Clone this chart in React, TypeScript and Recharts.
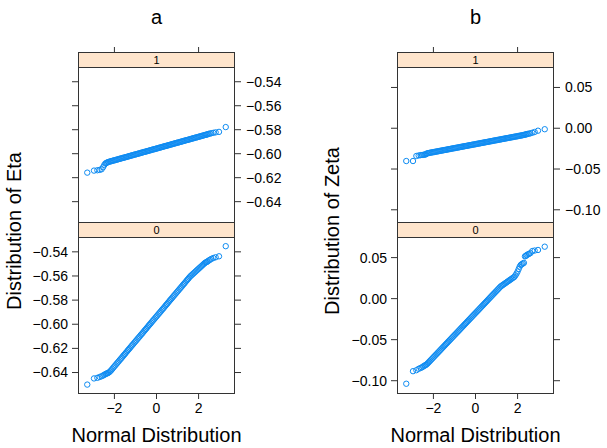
import React from 'react';
import { ScatterChart, Scatter, XAxis, YAxis } from 'recharts';

// theoretical normal quantiles: sparse tails plus the dense middle
const qLowTail = [-3.29, -2.97, -2.81, -2.7, -2.61, -2.54, -2.48, -2.43, -2.39, -2.35];
const qHighTail = [2.35, 2.39, 2.43, 2.48, 2.54, 2.61, 2.7, 2.81, 2.97, 3.29];
const qMiddle = [
  -2.3, -2.25, -2.2, -2.15, -2.1, -2.05, -2, -1.95, -1.9, -1.85,
  -1.8, -1.75, -1.7, -1.65, -1.6, -1.55, -1.5, -1.45, -1.4, -1.35,
  -1.3, -1.25, -1.2, -1.15, -1.1, -1.05, -1, -0.95, -0.9, -0.85,
  -0.8, -0.75, -0.7, -0.65, -0.6, -0.55, -0.5, -0.45, -0.4, -0.35,
  -0.3, -0.25, -0.2, -0.15, -0.1, -0.05, 0, 0.05, 0.1, 0.15,
  0.2, 0.25, 0.3, 0.35, 0.4, 0.45, 0.5, 0.55, 0.6, 0.65,
  0.7, 0.75, 0.8, 0.85, 0.9, 0.95, 1, 1.05, 1.1, 1.15,
  1.2, 1.25, 1.3, 1.35, 1.4, 1.45, 1.5, 1.55, 1.6, 1.65,
  1.7, 1.75, 1.8, 1.85, 1.9, 1.95, 2, 2.05, 2.1, 2.15,
  2.2, 2.25, 2.3,
];
const qNorm = [...qLowTail, ...qMiddle, ...qHighTail];

// Eta, group 1
const etaTop = [
  -0.6158, -0.6141, -0.6138, -0.6135, -0.613, -0.6113, -0.6094, -0.6082, -0.6078, -0.6074,
  -0.607, -0.6067, -0.6065, -0.6062, -0.606, -0.6057, -0.6055, -0.6053, -0.605, -0.6048,
  -0.6045, -0.6043, -0.604, -0.6038, -0.6035, -0.6033, -0.6031, -0.6028, -0.6026, -0.6023,
  -0.6021, -0.6018, -0.6016, -0.6013, -0.6011, -0.6008, -0.6006, -0.6004, -0.6001, -0.5999,
  -0.5996, -0.5994, -0.5991, -0.5989, -0.5986, -0.5984, -0.5982, -0.5979, -0.5977, -0.5974,
  -0.5972, -0.5969, -0.5967, -0.5964, -0.5962, -0.596, -0.5957, -0.5955, -0.5952, -0.595,
  -0.5947, -0.5945, -0.5942, -0.594, -0.5937, -0.5935, -0.5933, -0.593, -0.5928, -0.5925,
  -0.5923, -0.592, -0.5918, -0.5915, -0.5913, -0.591, -0.5908, -0.5906, -0.5903, -0.5901,
  -0.5898, -0.5896, -0.5893, -0.5891, -0.5888, -0.5886, -0.5884, -0.5881, -0.5879, -0.5876,
  -0.5874, -0.5871, -0.5869, -0.5866, -0.5864, -0.5862, -0.5859, -0.5857, -0.5854, -0.5852,
  -0.5849, -0.5847, -0.5844,
  -0.5842, -0.584, -0.5838, -0.5835, -0.5832, -0.5829, -0.5826, -0.5822, -0.5818, -0.5778,
];
// Eta, group 0
const etaBottom = [
  -0.65, -0.6449, -0.6444, -0.6437, -0.6431, -0.6425, -0.6419, -0.6414, -0.641, -0.6407,
  -0.6404, -0.6398, -0.639, -0.6381, -0.637, -0.6359, -0.6349, -0.6339, -0.6328, -0.6318,
  -0.6308, -0.6297, -0.6287, -0.6277, -0.6266, -0.6256, -0.6246, -0.6235, -0.6225, -0.6214,
  -0.6204, -0.6194, -0.6183, -0.6173, -0.6163, -0.6152, -0.6142, -0.6132, -0.6121, -0.6111,
  -0.6101, -0.609, -0.608, -0.607, -0.6059, -0.6049, -0.6039, -0.6028, -0.6018, -0.6007,
  -0.5997, -0.5987, -0.5976, -0.5966, -0.5956, -0.5945, -0.5935, -0.5925, -0.5914, -0.5904,
  -0.5894, -0.5883, -0.5873, -0.5863, -0.5852, -0.5842, -0.5832, -0.5821, -0.5811, -0.58,
  -0.579, -0.578, -0.5769, -0.5759, -0.5749, -0.5738, -0.5728, -0.5718, -0.5707, -0.5697,
  -0.5687, -0.5676, -0.5666, -0.5656, -0.5645, -0.5635, -0.5625, -0.5614, -0.5604, -0.5596,
  -0.5588, -0.558, -0.5572, -0.5564, -0.5556, -0.5548, -0.554, -0.5532, -0.5524, -0.5516,
  -0.5508, -0.55, -0.5492,
  -0.5487, -0.5484, -0.5479, -0.5472, -0.5466, -0.5458, -0.5451, -0.5445, -0.5437, -0.5353,
];
// Zeta, group 1
const zetaTop = [
  -0.0402, -0.0402, -0.034, -0.0334, -0.033, -0.0328, -0.0326, -0.0324, -0.0322, -0.0318,
  -0.0308, -0.0305, -0.0303, -0.03, -0.0298, -0.0295, -0.0293, -0.0291, -0.0288, -0.0286,
  -0.0283, -0.0281, -0.0278, -0.0276, -0.0273, -0.0271, -0.0269, -0.0266, -0.0264, -0.0261,
  -0.0259, -0.0256, -0.0254, -0.0251, -0.0249, -0.0246, -0.0244, -0.0242, -0.0239, -0.0237,
  -0.0234, -0.0232, -0.0229, -0.0227, -0.0224, -0.0222, -0.022, -0.0217, -0.0215, -0.0212,
  -0.021, -0.0207, -0.0205, -0.0202, -0.02, -0.0198, -0.0195, -0.0193, -0.019, -0.0188,
  -0.0185, -0.0183, -0.018, -0.0178, -0.0175, -0.0173, -0.0171, -0.0168, -0.0166, -0.0163,
  -0.0161, -0.0158, -0.0156, -0.0153, -0.0151, -0.0148, -0.0146, -0.0144, -0.0141, -0.0139,
  -0.0136, -0.0134, -0.0131, -0.0129, -0.0126, -0.0124, -0.0122, -0.0119, -0.0117, -0.0114,
  -0.0112, -0.0109, -0.0107, -0.0104, -0.0102, -0.01, -0.0097, -0.0095, -0.0092, -0.009,
  -0.0087, -0.0085, -0.0082,
  -0.0078, -0.0076, -0.0073, -0.007, -0.0066, -0.0062, -0.0055, -0.0046, -0.003, -0.0012,
];
// Zeta, group 0
const zetaBottom = [
  -0.1037, -0.0884, -0.0872, -0.0855, -0.0845, -0.0837, -0.0826, -0.0818, -0.0812, -0.0806,
  -0.0796, -0.0783, -0.0769, -0.0756, -0.0742, -0.0729, -0.0715, -0.0702, -0.0688, -0.0675,
  -0.0661, -0.0648, -0.0634, -0.0621, -0.0607, -0.0594, -0.058, -0.0567, -0.0553, -0.054,
  -0.0526, -0.0513, -0.0499, -0.0486, -0.0472, -0.0459, -0.0445, -0.0432, -0.0418, -0.0405,
  -0.0391, -0.0378, -0.0364, -0.0351, -0.0337, -0.0324, -0.031, -0.0297, -0.0283, -0.027,
  -0.0256, -0.0243, -0.0229, -0.0216, -0.0202, -0.0189, -0.0175, -0.0162, -0.0148, -0.0135,
  -0.0121, -0.0108, -0.0094, -0.0081, -0.0067, -0.0054, -0.004, -0.0027, -0.0013, 0.0001,
  0.0014, 0.0028, 0.0041, 0.0055, 0.0068, 0.0082, 0.0095, 0.0109, 0.0122, 0.0136,
  0.0149, 0.0158, 0.0167, 0.0176, 0.0185, 0.0194, 0.0203, 0.0212, 0.0221, 0.023,
  0.0239, 0.0248, 0.0257, 0.0266, 0.0285, 0.0305, 0.033, 0.036, 0.039, 0.041,
  0.042, 0.0428, 0.0436,
  0.0515, 0.052, 0.053, 0.0538, 0.0545, 0.0555, 0.058, 0.0586, 0.0593, 0.0633,
];

const normTicks = [-2, 0, 2];
const topTicks = [-2, 2];
const etaTicks = [-0.64, -0.62, -0.6, -0.58, -0.56, -0.54];
const zetaTicks = [-0.1, -0.05, 0, 0.05];
const qDomain = [-3.73, 3.73];
const etaDomain = [-0.6578, -0.5277];
const zetaDomain = [-0.1162, 0.0751];

const PW = 157;
const AXW = 60;
const LINE = '#333';
const PT = '#0f8cf2';
const FONT = '"Liberation Sans", Arial, Helvetica, sans-serif';

const fmt = (v: number, d: number) => v.toFixed(d).replace('-', '\u2212');
const blank = () => '';
const tickStyle = { fill: '#000', fontSize: 14, fontFamily: FONT };

const Ring = (p: any) => <circle cx={p.cx} cy={p.cy} r={2.7} fill="none" stroke={PT} strokeWidth={1} />;

const rows = (q: number[], v: number[]) => q.map((x, i) => ({ q: x, v: v[i] }));

function Panel({ left, top, height, data, yDomain, yTicks, digits, upper }: any) {
  const chartTop = upper ? top - 20 : top;
  const chartH = upper ? height + 20 : height + 30;
  const yFmt = (v: number) => fmt(v, digits);
  return (
    <div style={{ position: 'absolute', left: left - AXW, top: chartTop }}>
      <ScatterChart width={PW + 2 * AXW} height={chartH} margin={{ top: 0, right: 0, bottom: 0, left: 0 }}>
        <XAxis
          xAxisId="q" type="number" dataKey="q" domain={qDomain} allowDataOverflow
          ticks={normTicks} interval={0} hide={upper} height={30}
          tickSize={5} tickMargin={4} axisLine={false} tickLine={{ stroke: LINE }}
          tick={tickStyle} tickFormatter={(v: number) => fmt(v, 0)}
        />
        {upper && (
          <XAxis
            xAxisId="top" orientation="top" type="number" dataKey="q" domain={qDomain} allowDataOverflow
            ticks={topTicks} interval={0} height={20} tickSize={20}
            axisLine={false} tickLine={{ stroke: LINE }} tick={tickStyle} tickFormatter={blank}
          />
        )}
        <YAxis
          yAxisId="l" type="number" dataKey="v" domain={yDomain} allowDataOverflow
          ticks={yTicks} interval={0} width={AXW} tickSize={6} tickMargin={4}
          axisLine={false} tickLine={{ stroke: LINE }} tick={tickStyle}
          tickFormatter={upper ? blank : yFmt}
        />
        <YAxis
          yAxisId="r" orientation="right" type="number" dataKey="v" domain={yDomain} allowDataOverflow
          ticks={yTicks} interval={0} width={AXW} tickSize={6} tickMargin={5}
          axisLine={false} tickLine={{ stroke: LINE }} tick={tickStyle}
          tickFormatter={upper ? yFmt : blank}
        />
        <Scatter xAxisId="q" yAxisId="l" data={data} shape={Ring} isAnimationActive={false} />
      </ScatterChart>
    </div>
  );
}

const abs = (l: number, t: number, w: number, h: number): React.CSSProperties => ({
  position: 'absolute', left: l, top: t, width: w, height: h, boxSizing: 'border-box',
});

function Strip({ left, top, label }: any) {
  return (
    <div style={{
      ...abs(left, top, PW, 16), background: '#FFE5CC', border: `1px solid ${LINE}`,
      fontSize: 11, lineHeight: '14px', textAlign: 'center', color: '#000', zIndex: 2,
    }}>
      {label}
    </div>
  );
}

function Frame({ left, top, height }: any) {
  return <div style={{ ...abs(left, top, PW, height), border: `1px solid ${LINE}`, zIndex: 2, pointerEvents: 'none' }} />;
}

function Text({ x, y, rotate, children }: any) {
  return (
    <div style={{
      position: 'absolute', left: x, top: y, fontSize: 20, color: '#000', whiteSpace: 'nowrap',
      transform: `translate(-50%, -50%)${rotate ? ' rotate(-90deg)' : ''}`, lineHeight: 1,
    }}>
      {children}
    </div>
  );
}

function Figure({ left, title, yLabel, labelX, top, bottom, yDomain, yTicks, digits }: any) {
  const cx = left + PW / 2;
  return (
    <>
      <Panel left={left} top={67} height={156} data={top} yDomain={yDomain} yTicks={yTicks} digits={digits} upper />
      <Panel left={left} top={237} height={157} data={bottom} yDomain={yDomain} yTicks={yTicks} digits={digits} />
      <Frame left={left} top={67} height={156} />
      <Frame left={left} top={237} height={157} />
      <Strip left={left} top={52} label="1" />
      <Strip left={left} top={222} label="0" />
      <Text x={cx} y={17}>{title}</Text>
      <Text x={cx} y={435}>Normal Distribution</Text>
      <Text x={labelX} y={230.5} rotate>{yLabel}</Text>
    </>
  );
}

export default function App() {
  return (
    <div style={{ position: 'absolute', left: 0, top: 0, width: 607, height: 448, background: '#fff', fontFamily: FONT, overflow: 'hidden' }}>
      <Figure
        left={78} title="a" yLabel="Distribution of Eta" labelX={14}
        top={rows(qNorm, etaTop)} bottom={rows(qNorm, etaBottom)}
        yDomain={etaDomain} yTicks={etaTicks} digits={2}
      />
      <Figure
        left={397} title="b" yLabel="Distribution of Zeta" labelX={332}
        top={rows(qNorm, zetaTop)} bottom={rows(qNorm, zetaBottom)}
        yDomain={zetaDomain} yTicks={zetaTicks} digits={2}
      />
    </div>
  );
}
